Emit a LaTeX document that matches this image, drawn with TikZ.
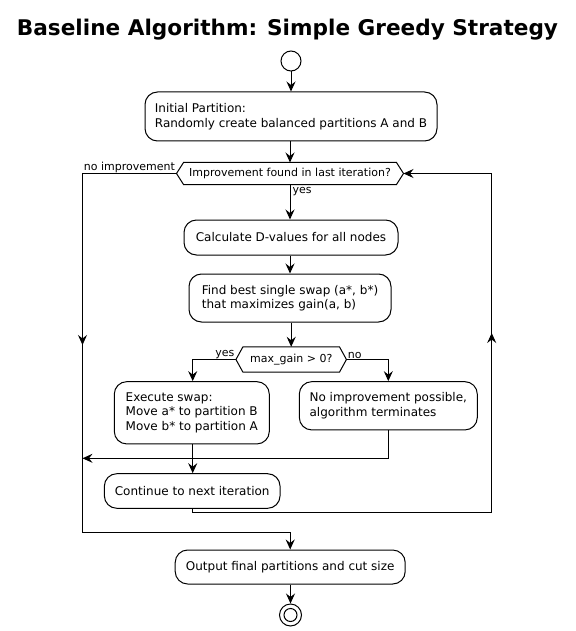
\documentclass[tikz,border=0pt]{standalone}
\usepackage{fontspec}
\setmainfont{DejaVu Sans}
\usetikzlibrary{arrows.meta,calc}
\begin{document}
\begin{tikzpicture}[x=1pt,y=-1pt,
  line width=1pt,
  arr/.style={-{Stealth[length=10pt,width=9pt,inset=3.5pt]}},
  act/.style={draw, rounded corners=12.5pt, align=left, inner sep=0pt,
    font=\fontsize{12}{14.5}\selectfont},
  hexa/.style={inner sep=0pt, font=\fontsize{11}{13}\selectfont},
  lbl/.style={inner sep=1pt, font=\fontsize{11}{13}\selectfont}
]
\useasboundingbox (0,0) rectangle (575,631);
\node[font=\bfseries\fontsize{21.6}{24}\selectfont] (title) at (287.5,30) {Baseline Algorithm: Simple Greedy Strategy};

\node[circle, draw, minimum size=20pt, inner sep=0pt] (start) at (291,61) {};
\node[act, minimum width=292pt, minimum height=49pt] (init) at (291,116.5)
  {Initial Partition:\\Randomly create balanced partitions A and B};

% decision 1
\node[hexa, minimum width=212pt, minimum height=21pt] (d1) at (290,173.5) {Improvement found in last iteration?};
\coordinate (d1l) at ($(d1.west)+(-7,0)$);
\coordinate (d1r) at ($(d1.east)+(7,0)$);
\draw (d1l) -- (d1.north west) -- (d1.north east) -- (d1r) -- (d1.south east) -- (d1.south west) -- cycle;

\node[act, minimum width=214pt, minimum height=35pt, align=center] (calc) at (291,237.5) {Calculate D-values for all nodes};
\node[act, minimum width=202pt, minimum height=48pt] (find) at (290,298)
  {Find best single swap (a*, b*)\\that maximizes gain(a, b)};

% decision 2
\node[hexa, minimum width=95.5pt, minimum height=24.4pt] (d2) at (291.2,359.5) {max\_gain > 0?};
\coordinate (d2l) at ($(d2.west)+(-7,0)$);
\coordinate (d2r) at ($(d2.east)+(7,0)$);
\draw (d2l) -- (d2.north west) -- (d2.north east) -- (d2r) -- (d2.south east) -- (d2.south west) -- cycle;

\node[act, minimum width=155pt, minimum height=62.3pt] (exec) at (191.8,412.8)
  {Execute swap:\\Move a* to partition B\\Move b* to partition A};
\node[act, minimum width=178pt, minimum height=48.3pt] (noimp) at (388.3,405.8)
  {No improvement possible,\\algorithm terminates};
\node[act, minimum width=175.7pt, minimum height=34.6pt, align=center] (cont) at (192.2,491) {Continue to next iteration};
\node[act, minimum width=230pt, minimum height=34pt, align=center] (out) at (290.2,567) {Output final partitions and cut size};

\node[circle, draw, minimum size=22pt, inner sep=0pt] (end) at (290.5,615) {};
\node[circle, draw, minimum size=13pt, inner sep=0pt] (endin) at (290.5,615) {};

% connectors
\draw[arr] (start) -- (start |- init.north);
\draw[arr] (init.south -| d1.north) -- (d1.north);
\draw[arr] (d1.south) -- (d1.south |- calc.north);
\node[lbl, anchor=north west] (yes1) at ($(d1.south)+(1,1)$) {yes};
\draw[arr] (calc.south -| find.north) -- (find.north);
\draw[arr] (find.south -| d2.north) -- (d2.north);

\coordinate (ey) at (192.7,359.5);
\draw[arr] (d2l) -- (ey) -- (ey |- exec.north);
\node[lbl, anchor=south east] (yes2) at ($(d2l)+(0,1)$) {yes};
\coordinate (ny) at (388.3,359.5);
\draw[arr] (d2r) -- (ny) -- (ny |- noimp.north);
\node[lbl, anchor=south west] (no2) at ($(d2r)+(0,1)$) {no};

\draw[arr] (ey |- exec.south) -- (ey |- cont.north);

\coordinate (mergeL) at (82.5,458.3);
\draw[arr] (noimp.south) -- (noimp.south |- mergeL) -- (mergeL);

% no improvement path
\coordinate (lt) at (82.5,173.5);
\coordinate (lb) at (82.5,532);
\coordinate (lmid) at (82.5,345);
\draw (d1l) -- (lt) -- (lb) -- (lb -| out.north);
\draw[arr] (lt) -- (lmid);
\draw[arr] (lb -| out.north) -- (out.north);
\node[lbl, anchor=south east] (noimpl) at ($(d1l)+(0,0.5)$) {no improvement};

% loop back
\coordinate (rb) at (491.7,512.7);
\coordinate (rt) at (491.7,173.5);
\coordinate (rmid) at (491.7,333);
\draw (ey |- cont.south) -- (ey |- rb) -- (rb) -- (rt);
\draw[arr] (rb) -- (rmid);
\draw[arr] (rt) -- (d1r);

\draw[arr] (out.south -| end.north) -- (end.north);
\end{tikzpicture}
\end{document}
